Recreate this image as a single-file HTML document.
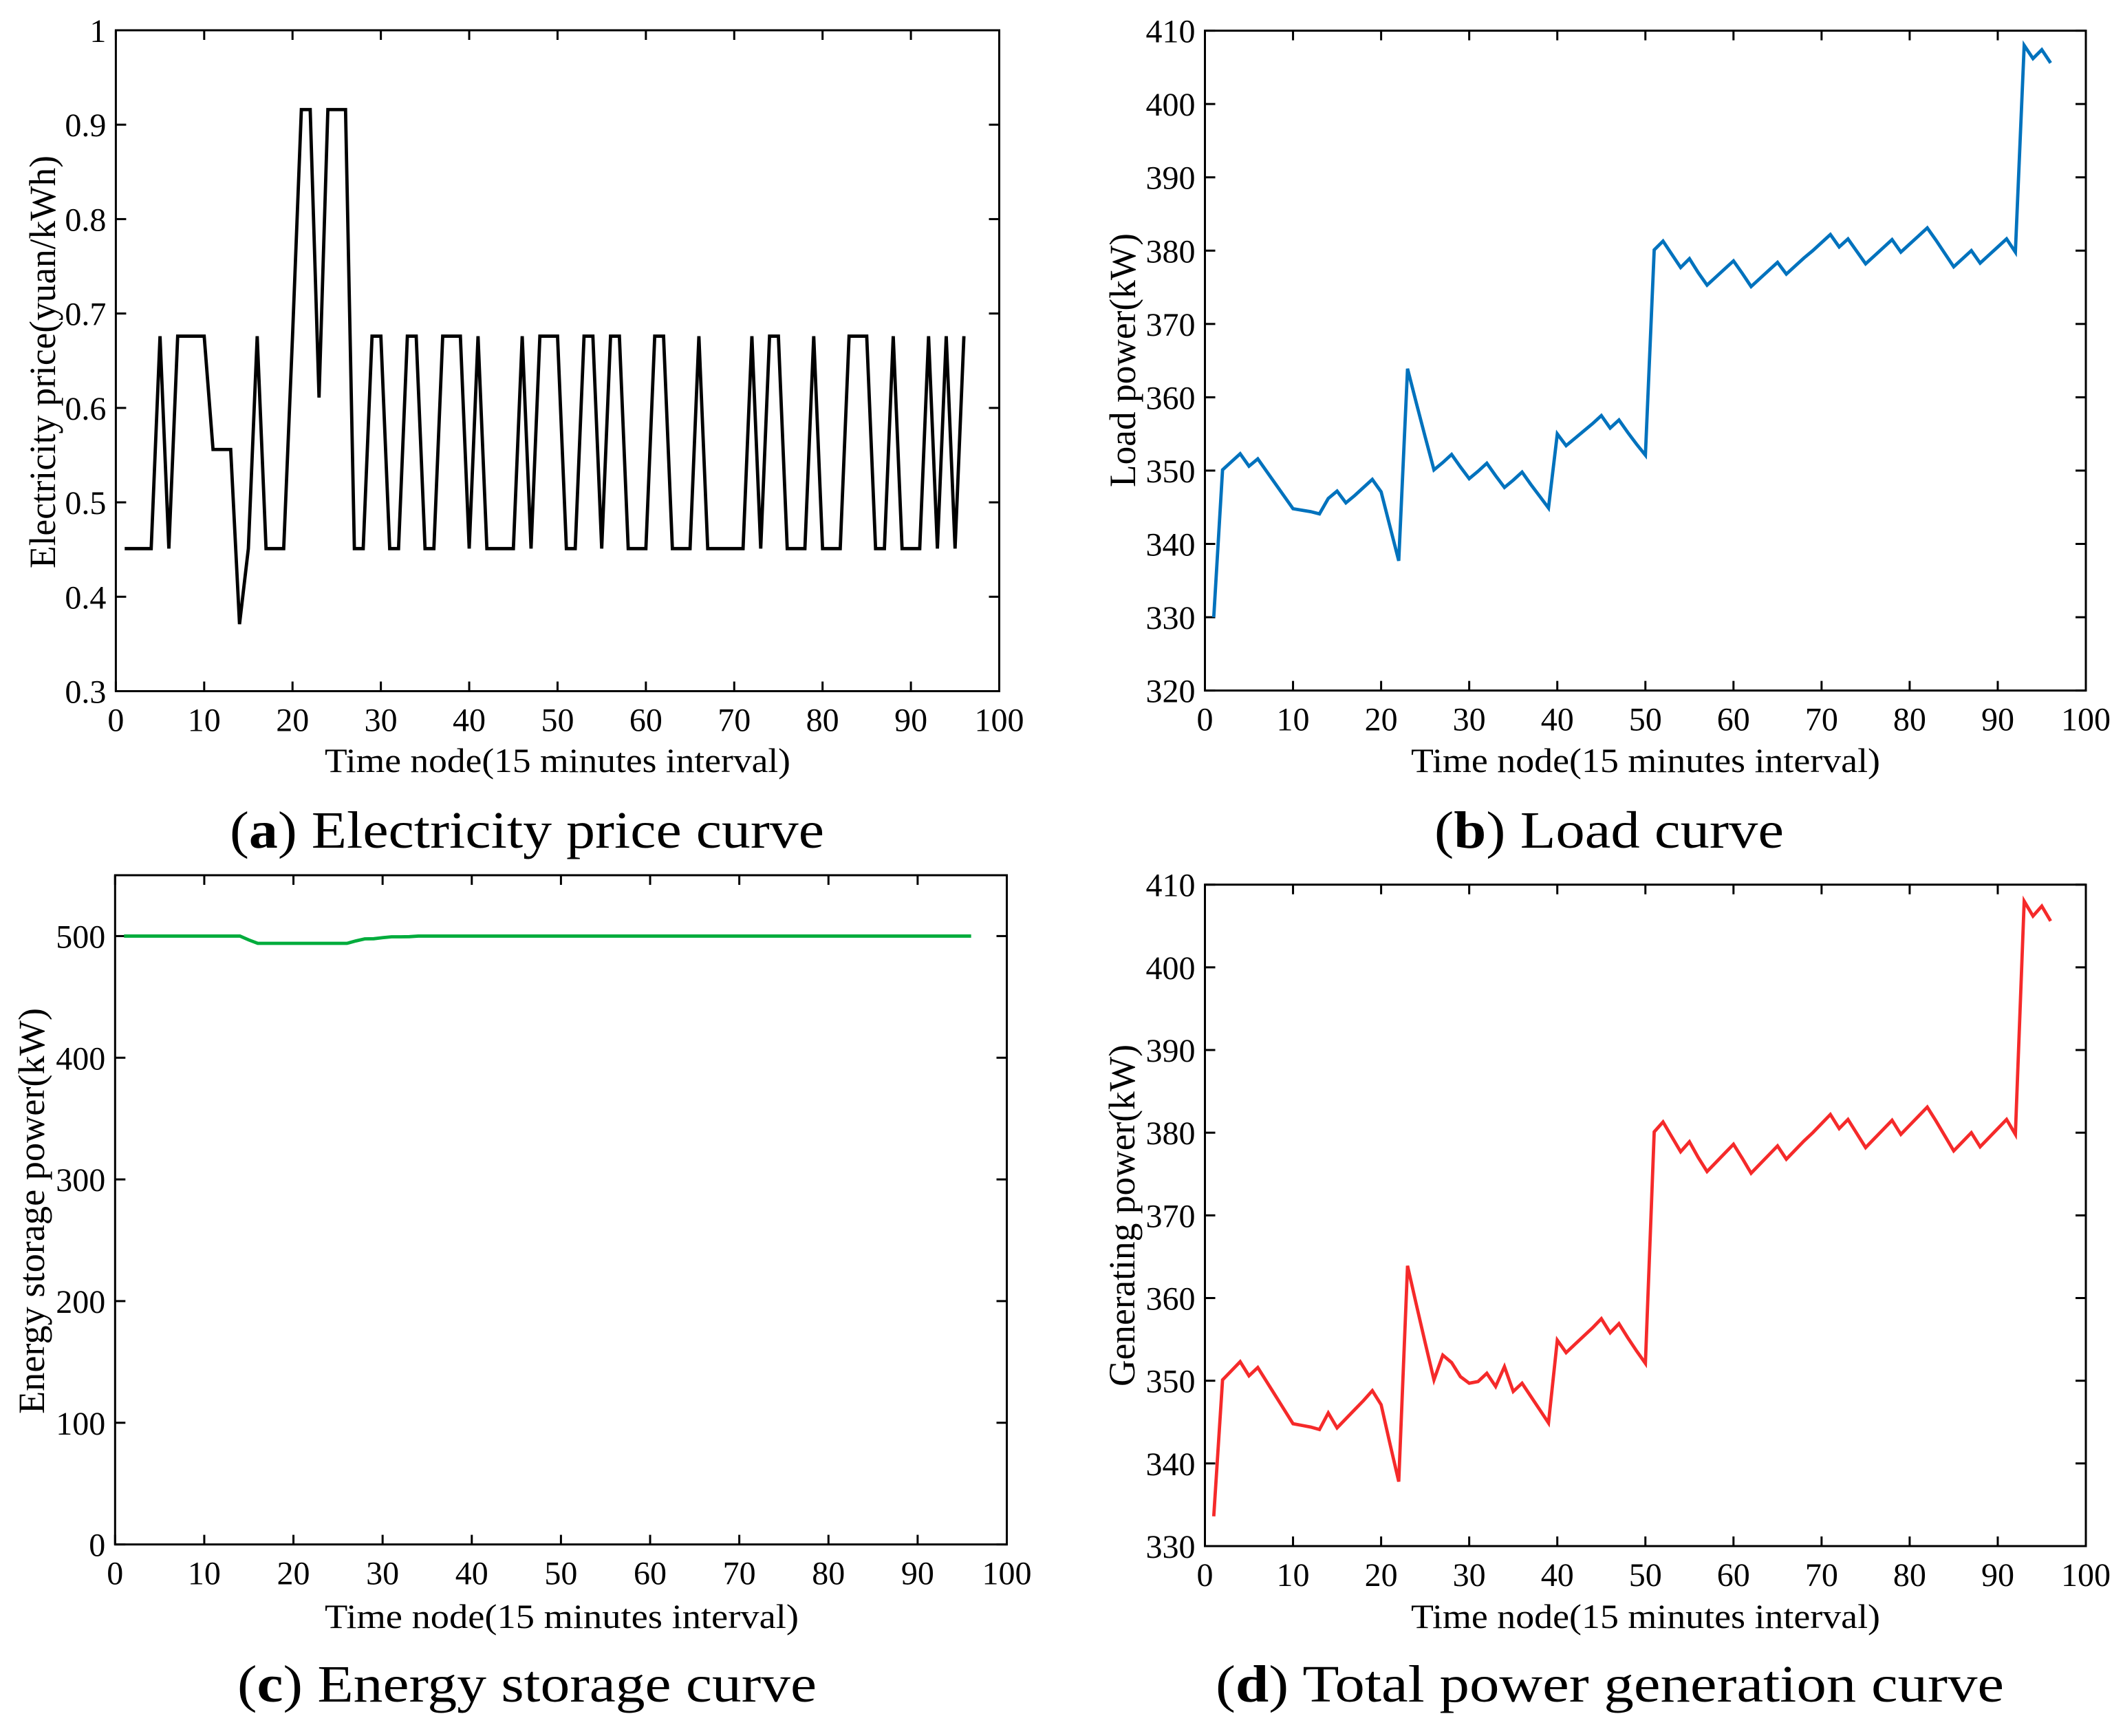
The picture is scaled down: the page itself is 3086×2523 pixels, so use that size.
<!DOCTYPE html>
<html lang="en">
<head>
<meta charset="utf-8">
<title>Electricity price, load, storage and generation curves</title>
<style>
html,body{margin:0;padding:0;background:#fff;width:3086px;height:2523px;overflow:hidden}
svg{display:block}
text{font-family:"Liberation Serif",serif;fill:#000}
.tick-label{font-size:48px}
.axis-title{font-size:50px}
.y-title{font-size:54px}
.caption{font-size:76px}
</style>
</head>
<body>
<svg id="chart" xmlns="http://www.w3.org/2000/svg" width="3086" height="2523" viewBox="0 0 3086 2523">
  <rect x="0" y="0" width="3086" height="2523" fill="#fff"/>
  <g id="panel-a">
    <text class="y-title" x="0" y="0" transform="translate(80 826) rotate(-90)" textLength="600" lengthAdjust="spacingAndGlyphs">Electricity price(yuan/kWh)</text>
    <text class="axis-title" x="472" y="1122" textLength="677" lengthAdjust="spacingAndGlyphs">Time node(15 minutes interval)</text>
    <text class="caption" x="334" y="1232" textLength="864" lengthAdjust="spacingAndGlyphs">(<tspan font-weight="bold">a</tspan>) Electricity price curve</text>
  </g>
  <g id="panel-b">
    <text class="y-title" x="0" y="0" transform="translate(1650 708) rotate(-90)" textLength="369" lengthAdjust="spacingAndGlyphs">Load power(kW)</text>
    <text class="axis-title" x="2051" y="1122" textLength="682" lengthAdjust="spacingAndGlyphs">Time node(15 minutes interval)</text>
    <text class="caption" x="2085" y="1232" textLength="508" lengthAdjust="spacingAndGlyphs">(<tspan font-weight="bold">b</tspan>) Load curve</text>
  </g>
  <g id="panel-c">
    <text class="y-title" x="0" y="0" transform="translate(64 2055) rotate(-90)" textLength="590" lengthAdjust="spacingAndGlyphs">Energy storage power(kW)</text>
    <text class="axis-title" x="472" y="2366" textLength="689" lengthAdjust="spacingAndGlyphs">Time node(15 minutes interval)</text>
    <text class="caption" x="345" y="2473" textLength="842" lengthAdjust="spacingAndGlyphs">(<tspan font-weight="bold">c</tspan>) Energy storage curve</text>
  </g>
  <g id="panel-d">
    <text class="y-title" x="0" y="0" transform="translate(1649 2015) rotate(-90)" textLength="497" lengthAdjust="spacingAndGlyphs">Generating power(kW)</text>
    <text class="axis-title" x="2051" y="2366" textLength="682" lengthAdjust="spacingAndGlyphs">Time node(15 minutes interval)</text>
    <text class="caption" x="1767" y="2473" textLength="1146" lengthAdjust="spacingAndGlyphs">(<tspan font-weight="bold">d</tspan>) Total power generation curve</text>
  </g>
</svg>
<script>
var xTickLabels = ["0","10","20","30","40","50","60","70","80","90","100"];
var priceTickLabels = ["0.3","0.4","0.5","0.6","0.7","0.8","0.9","1"];
var loadTickLabels = ["320","330","340","350","360","370","380","390","400","410"];
var storageTickLabels = ["0","100","200","300","400","500"];
var generationTickLabels = ["330","340","350","360","370","380","390","400","410"];

var priceValues = [
0.451,0.451,0.451,0.451,0.676,0.451,0.676,0.676,0.676,0.676,
0.556,0.556,0.556,0.371,0.451,0.676,0.451,0.451,0.451,0.676,
0.916,0.916,0.611,0.916,0.916,0.916,0.451,0.451,0.676,0.676,
0.451,0.451,0.676,0.676,0.451,0.451,0.676,0.676,0.676,0.451,
0.676,0.451,0.451,0.451,0.451,0.676,0.451,0.676,0.676,0.676,
0.451,0.451,0.676,0.676,0.451,0.676,0.676,0.451,0.451,0.451,
0.676,0.676,0.451,0.451,0.451,0.676,0.451,0.451,0.451,0.451,
0.451,0.676,0.451,0.676,0.676,0.451,0.451,0.451,0.676,0.451,
0.451,0.451,0.676,0.676,0.676,0.451,0.451,0.676,0.451,0.451,
0.451,0.676,0.451,0.676,0.451,0.676];

var loadValues = [
330,350.1,351.2,352.3,350.6,351.6,349.9,348.2,346.5,344.8,
344.6,344.4,344.1,346.2,347.2,345.6,346.6,347.7,348.8,347.1,
342.4,337.7,363.9,359.2,354.6,350.1,351.1,352.2,350.5,348.9,
349.9,351,349.3,347.7,348.7,349.8,348.1,346.5,344.9,355,
353.4,354.4,355.4,356.4,357.5,355.8,356.9,355.2,353.6,352.1,
380.1,381.3,379.5,377.7,378.9,377,375.3,376.4,377.5,378.6,
376.9,375.1,376.2,377.3,378.4,376.8,377.9,379,380,381.1,
382.2,380.5,381.6,379.9,378.2,379.3,380.4,381.5,379.8,380.9,
382,383.1,381.4,379.6,377.8,378.9,380,378.3,379.4,380.5,
381.6,379.8,408,406.2,407.4,405.6];

var storageValues = [
500,500,500,500,500,500,500,500,500,500,
500,500,500,500,496.8,494,494,494,494,494,
494,494,494,494,494,494,496,497.7,497.8,498.7,
499.4,499.4,499.5,500,500,500,500,500,500,500,
500,500,500,500,500,500,500,500,500,500,
500,500,500,500,500,500,500,500,500,500,
500,500,500,500,500,500,500,500,500,500,
500,500,500,500,500,500,500,500,500,500,
500,500,500,500,500,500,500,500,500,500,
500,500,500,500,500,500];

var generationValues = [
333.6,350.1,351.2,352.3,350.6,351.6,349.9,348.2,346.5,344.8,
344.6,344.4,344.1,346.1,344.3,345.4,346.5,347.6,348.8,347.1,
342.4,337.8,363.9,359.2,354.6,350.1,353.1,352.2,350.5,349.7,
349.9,350.9,349.3,351.7,348.7,349.7,348.1,346.5,344.9,354.9,
353.4,354.4,355.4,356.4,357.5,355.8,356.9,355.2,353.6,352.1,
380.1,381.3,379.5,377.7,378.9,377,375.3,376.4,377.5,378.6,
376.9,375.1,376.2,377.3,378.4,376.8,377.9,379,380,381.1,
382.2,380.5,381.6,379.9,378.2,379.3,380.4,381.5,379.8,380.9,
382,383.1,381.4,379.6,377.8,378.9,380,378.3,379.4,380.5,
381.6,379.8,408,406.2,407.4,405.6];

var NS = "http://www.w3.org/2000/svg";

function make(parent, tag, attrs) {
  var el = document.createElementNS(NS, tag);
  for (var k in attrs) { el.setAttribute(k, attrs[k]); }
  parent.appendChild(el);
  return el;
}

function drawPanel(c) {
  var host = document.getElementById(c.id);
  var w = c.right - c.left;
  var h = c.bottom - c.top;
  var yMin = parseFloat(c.yLabels[0]);
  function sx(v) { return c.left + v / 100 * w; }
  function sy(v) { return c.bottom - (v - yMin) / (c.yMax - yMin) * h; }

  // y ticks
  c.yLabels.forEach(function (label) {
    var v = parseFloat(label);
    var y = sy(v);
    var t1 = make(host, "line", {x1: c.left, x2: c.left + 15, y1: y, y2: y, stroke: "#000", "stroke-width": 3});
    
    
    var t2 = make(host, "line", {x1: c.right, x2: c.right - 15, y1: y, y2: y, stroke: "#000", "stroke-width": 3});
    
    
    var tx = make(host, "text", {x: c.left - 14, y: y + 17, "text-anchor": "end", "class": "tick-label"});
    
    
    tx.textContent = label;
  });

  // x ticks
  xTickLabels.forEach(function (label) {
    var v = parseFloat(label);
    var x = sx(v);
    var t1 = make(host, "line", {x1: x, x2: x, y1: c.bottom, y2: c.bottom - 14, stroke: "#000", "stroke-width": 3});
    
    
    var t2 = make(host, "line", {x1: x, x2: x, y1: c.top, y2: c.top + 14, stroke: "#000", "stroke-width": 3});
    
    
    var tx = make(host, "text", {x: x, y: c.bottom + 58, "text-anchor": "middle", "class": "tick-label"});
    
    
    tx.textContent = label;
  });

  // series line
  var pts = c.values.map(function (v, i) {
    return sx(i + 1).toFixed(2) + "," + sy(v).toFixed(2);
  }).join(" ");
  var line = make(host, "polyline", {points: pts, fill: "none", stroke: c.color, "stroke-width": 4.8, "stroke-linejoin": "miter", "stroke-miterlimit": 4});
  
  

  // frame
  var frame = make(host, "rect", {x: c.left, y: c.top, width: w, height: h, fill: "none", stroke: "#000", "stroke-width": 3});
  
  
}

drawPanel({id: "panel-a", left: 168.4, right: 1452.5, top: 44, bottom: 1004.5, yMax: 1, yLabels: priceTickLabels, values: priceValues, color: "#000000", lineName: "price-line"});
drawPanel({id: "panel-b", left: 1751.5, right: 3032, top: 44.6, bottom: 1003.6, yMax: 410, yLabels: loadTickLabels, values: loadValues, color: "#0072bd", lineName: "load-line"});
drawPanel({id: "panel-c", left: 167.3, right: 1463.5, top: 1272, bottom: 2244.6, yMax: 550, yLabels: storageTickLabels, values: storageValues, color: "#00ac3c", lineName: "storage-line"});
drawPanel({id: "panel-d", left: 1751.5, right: 3032, top: 1285.7, bottom: 2247, yMax: 410, yLabels: generationTickLabels, values: generationValues, color: "#f52a2a", lineName: "generation-line"});
</script>
</body>
</html>
